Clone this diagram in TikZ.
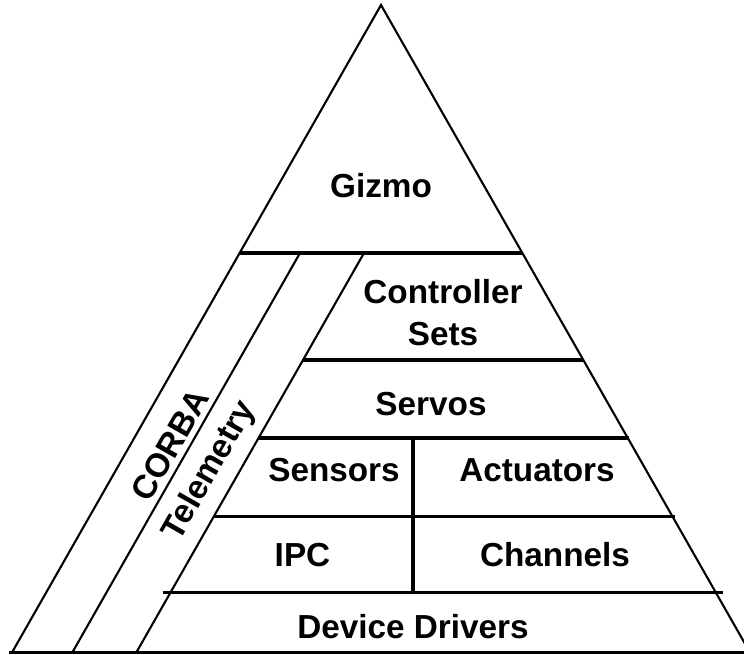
\documentclass[tikz,border=0pt]{standalone}
\usepackage{fontspec}
\setmainfont{Liberation Sans}
\begin{document}
\begin{tikzpicture}[x=1pt,y=-1pt,
  edge/.style={line width=2.1pt, line cap=round},
  band/.style={line width=2.1pt},
  layer/.style={line width=3.2pt},
  lbl/.style={inner sep=0pt, font=\fontsize{33.3}{42}\selectfont\bfseries},
  slant/.style={lbl, rotate=60.3, anchor=center}]
  \useasboundingbox (0,0) rectangle (744,655);

  % outer triangle
  \coordinate (apex) at (381,5);
  \coordinate (bl) at (12,652.5);
  \coordinate (br) at (750,652.5);
  \draw[edge] (bl) -- (apex) -- (br);
  \coordinate (baseL) at (9,652.5);
  \coordinate (baseR) at (750,652.5);
  \draw[layer] (baseL) -- (baseR);

  % CORBA and Telemetry bands, parallel to the left side
  \coordinate (c1) at (300,253);   \coordinate (c2) at (72.3,652.5);
  \coordinate (t1) at (364,253);   \coordinate (t2) at (136.3,652.5);
  \draw[band] (c1) -- (c2);
  \draw[band] (t1) -- (t2);

  % layer separators
  \coordinate (g1) at (239.7,253);  \coordinate (g2) at (522.3,253);
  \coordinate (s1) at (303,360);    \coordinate (s2) at (583.3,360);
  \coordinate (v1) at (258.6,438);  \coordinate (v2) at (629,438);
  \coordinate (a1) at (213.8,516.5);\coordinate (a2) at (675,516.5);
  \coordinate (i1) at (163,592.5);  \coordinate (i2) at (723,592.5);
  \draw[layer] (g1) -- (g2);
  \draw[layer] (s1) -- (s2);
  \draw[layer] (v1) -- (v2);
  \draw[layer] (a1) -- (a2);
  \draw[layer] (i1) -- (i2);

  % vertical divider of the two split layers
  \coordinate (d1) at (413,438);   \coordinate (d2) at (413,592.5);
  \draw[layer] (d1) -- (d2);

  % labels
  \node[lbl, anchor=base] (gizmo) at (381,197) {Gizmo};
  \node[lbl, anchor=north, align=center] (ctrl) at (443,279.5) {Controller\\Sets};
  \node[lbl, anchor=base] (servos) at (431,415) {Servos};
  \node[lbl, anchor=base] (sensors) at (334,481.7) {Sensors};
  \node[lbl, anchor=base] (actuators) at (537,481.7) {Actuators};
  \node[lbl, anchor=base] (ipc) at (302.5,566.7) {IPC};
  \node[lbl, anchor=base] (channels) at (555,566.7) {Channels};
  \node[lbl, anchor=base] (drivers) at (413,638.3) {Device Drivers};
  \node[slant] (corba) at (170,445) {CORBA};
  \node[slant] (telemetry) at (210,471) {Telemetry};
\end{tikzpicture}
\end{document}
